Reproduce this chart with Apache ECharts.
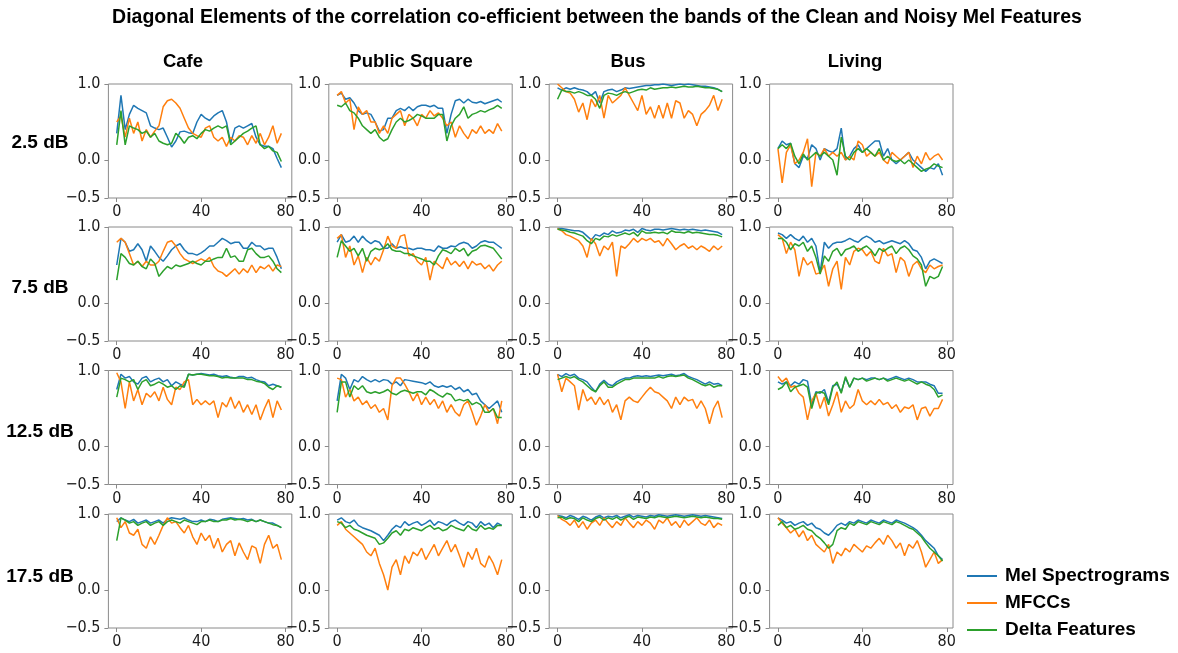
<!DOCTYPE html>
<html>
<head>
<meta charset="utf-8">
<script src="https://cdn.jsdelivr.net/npm/echarts@6/dist/echarts.min.js"></script>
<style>
  html, body { margin: 0; padding: 0; background: #fff; }
  #chart { width: 1178px; height: 653px; }
</style>
</head>
<body>
<div id="chart"></div>
<script>
// Noise conditions (columns) and SNR levels (rows)
const scenes = ['Cafe', 'Public Square', 'Bus', 'Living'];
const snrLevels = ['2.5 dB', '7.5 dB', '12.5 dB', '17.5 dB'];
const featureNames = ['Mel Spectrograms', 'MFCCs', 'Delta Features'];
const featureColors = ['#1f77b4', '#ff7f0e', '#2ca02c'];

// Mel band index of each sample
const bandIndex = [0,2,4,6,8,10,12,14,16,18,20,22,24,26,28,30,32,34,36,38,
                   40,42,44,46,48,50,52,54,56,58,60,62,64,66,68,70,72,74,76,78];
const xTicks = [0, 40, 80];
const yTicks = [-0.5, 0, 1];

// ---- 2.5 dB ----
const cafe25Mel   = [.35,.85,.4,.6,.72,.68,.65,.62,.45,.42, .4,.42,.3,.17,.25,.37,.38,.36,.35,.5, .6,.55,.52,.58,.62,.65,.5,.22,.42,.45, .42,.45,.48,.3,.2,.18,.18,.15,.02,-.1];
const cafe25Mfcc  = [.5,.58,.3,.55,.35,.5,.25,.4,.3,.38, .45,.7,.78,.8,.75,.68,.55,.42,.35,.32, .3,.42,.45,.3,.25,.3,.18,.3,.25,.32, .3,.2,.32,.22,.35,.2,.3,.45,.22,.35];
const cafe25Delta = [.2,.65,.2,.45,.42,.4,.35,.38,.3,.35, .25,.22,.2,.22,.35,.3,.22,.3,.32,.28, .35,.4,.38,.42,.45,.42,.45,.2,.25,.3, .35,.38,.42,.45,.2,.15,.18,.12,.1,-.02];

const square25Mel   = [.85,.88,.8,.82,.75,.65,.6,.62,.6,.5, .38,.4,.55,.55,.65,.68,.65,.7,.65,.7, .72,.72,.7,.72,.68,.68,.35,.6,.78,.8, .75,.8,.76,.75,.77,.74,.76,.78,.8,.76];
const square25Mfcc  = [.85,.9,.75,.8,.4,.7,.6,.65,.5,.5, .35,.45,.35,.55,.6,.65,.45,.6,.55,.45, .6,.55,.65,.58,.62,.55,.45,.5,.3,.45, .35,.28,.4,.35,.45,.35,.4,.35,.48,.38];
const square25Delta = [.72,.7,.75,.65,.62,.55,.45,.4,.35,.4, .3,.25,.28,.4,.5,.55,.5,.52,.55,.6, .58,.55,.55,.55,.6,.6,.25,.45,.55,.6, .7,.55,.6,.62,.65,.63,.66,.68,.72,.68];

const bus25Mel   = [.95,.92,.95,.93,.95,.93,.92,.9,.85,.9, .75,.9,.92,.93,.9,.92,.95,.94,.95,.96, .97,.98,.98,.99,.99,1,.99,.98,.99,1, .99,1,.99,.98,.97,.97,.96,.95,.93,.9];
const bus25Mfcc  = [1,.95,.9,.88,.8,.63,.75,.53,.8,.7, .85,.55,.85,.75,.8,.85,.95,.85,.75,.65, .85,.6,.7,.55,.72,.55,.75,.55,.78,.75, .55,.65,.6,.45,.6,.65,.72,.85,.65,.8];
const bus25Delta = [.8,.92,.9,.9,.88,.9,.88,.85,.85,.8, .68,.85,.88,.87,.85,.88,.9,.88,.9,.92, .93,.92,.95,.93,.94,.95,.95,.96,.95,.96, .97,.96,.96,.97,.96,.95,.95,.94,.93,.9];

const living25Mel   = [.15,.25,.2,.22,-.05,-.1,.05,.02,.2,.15, 0,.15,.12,.1,.15,.42,0,.05,.15,.2, .1,.15,.2,.25,.25,.05,.15,0,-.05,0, .05,.1,0,-.05,-.1,-.15,-.1,-.12,-.05,-.2];
const living25Mfcc  = [.15,-.3,.1,.2,-.05,0,.1,.28,-.35,.1, .05,.15,.05,.1,.05,.1,0,.05,0,.25, .2,.05,.1,.05,.1,0,-.05,.1,.05,0, .05,.1,-.1,.05,-.05,.1,0,.05,.08,0];
const living25Delta = [.15,.2,.15,.22,.05,-.05,.08,0,.05,.1, .05,.1,.05,0,-.2,.3,.05,0,.1,.15, .1,.15,.1,.05,.15,0,.05,0,-.02,0, -.05,0,-.05,-.1,-.15,-.12,-.1,-.05,-.08,-.1];

// ---- 7.5 dB ----
const cafe75Mel   = [.5,.85,.8,.68,.7,.78,.7,.55,.75,.68, .6,.55,.62,.7,.75,.78,.7,.65,.65,.63, .66,.7,.75,.75,.8,.85,.82,.78,.8,.8, .72,.72,.8,.75,.75,.7,.72,.72,.6,.45];
const cafe75Mfcc  = [.8,.85,.8,.65,.5,.55,.48,.55,.5,.5, .55,.68,.8,.82,.75,.65,.58,.55,.52,.55, .58,.55,.6,.48,.42,.4,.35,.4,.45,.38, .45,.4,.5,.4,.48,.45,.5,.42,.5,.48];
const cafe75Delta = [.3,.65,.6,.52,.5,.55,.48,.45,.58,.52, .35,.42,.48,.45,.5,.48,.5,.52,.55,.52, .5,.55,.55,.58,.6,.6,.72,.6,.62,.55, .55,.7,.72,.65,.6,.6,.62,.55,.45,.4];

const square75Mel   = [.8,.9,.8,.82,.88,.8,.88,.82,.78,.82, .8,.72,.72,.78,.72,.74,.72,.72,.7,.72, .72,.7,.7,.68,.75,.72,.72,.75,.74,.78, .8,.78,.72,.75,.8,.82,.8,.8,.76,.72];
const square75Mfcc  = [.85,.9,.6,.75,.5,.62,.4,.6,.5,.6, .55,.7,.88,.75,.72,.88,.9,.62,.65,.55, .5,.6,.3,.55,.5,.45,.6,.5,.55,.48, .55,.45,.55,.5,.52,.45,.5,.42,.5,.55];
const square75Delta = [.6,.82,.75,.68,.72,.62,.72,.55,.68,.72, .7,.72,.78,.7,.68,.68,.65,.65,.62,.6, .58,.55,.55,.5,.62,.7,.68,.65,.72,.68, .72,.62,.68,.7,.75,.76,.74,.72,.65,.58];

const bus75Mel   = [.98,.98,.97,.96,.95,.95,.93,.88,.83,.9, .88,.92,.9,.95,.92,.93,.96,.95,.97,.93, .98,.96,.95,.97,.97,.96,.97,.98,.97,.96, .97,.96,.97,.96,.95,.96,.95,.94,.93,.9];
const bus75Mfcc  = [.98,.95,.9,.88,.85,.82,.75,.6,.85,.78, .62,.75,.7,.8,.35,.75,.72,.78,.85,.8, .85,.82,.85,.8,.82,.75,.85,.78,.7,.75, .78,.72,.75,.7,.75,.72,.68,.75,.7,.75];
const bus75Delta = [.97,.96,.95,.93,.92,.9,.88,.82,.78,.85, .83,.88,.87,.9,.88,.9,.92,.9,.93,.88, .95,.92,.92,.93,.92,.93,.91,.95,.93,.93, .92,.94,.92,.93,.92,.91,.9,.9,.89,.87];

const living75Mel   = [.92,.9,.85,.9,.85,.82,.88,.8,.85,.75, .4,.8,.72,.78,.8,.8,.82,.85,.82,.8, .85,.88,.85,.8,.82,.78,.8,.82,.8,.78, .82,.78,.7,.68,.6,.45,.55,.58,.55,.52];
const living75Mfcc  = [.9,.85,.65,.8,.7,.35,.6,.5,.55,.38, .4,.5,.22,.45,.55,.18,.6,.5,.68,.72, .7,.62,.68,.55,.52,.72,.62,.65,.4,.6, .55,.35,.5,.55,.45,.4,.5,.45,.48,.5];
const living75Delta = [.85,.85,.8,.7,.78,.75,.8,.68,.75,.6, .38,.62,.55,.68,.72,.62,.7,.72,.75,.68, .72,.75,.7,.62,.72,.68,.72,.75,.65,.72, .75,.7,.62,.58,.5,.22,.35,.32,.35,.48];

// ---- 12.5 dB ----
const cafe125Mel   = [.75,.95,.9,.92,.85,.82,.9,.92,.85,.88, .9,.85,.88,.8,.85,.82,.8,.95,.94,.95, .96,.95,.94,.95,.93,.92,.93,.91,.9,.92, .92,.9,.91,.88,.86,.85,.8,.82,.8,.78];
const cafe125Mfcc  = [.97,.85,.5,.85,.6,.75,.55,.7,.65,.72, .6,.78,.62,.55,.78,.75,.85,.88,.55,.62, .55,.6,.55,.6,.38,.58,.52,.65,.5,.6, .45,.55,.42,.55,.35,.5,.62,.38,.6,.48];
const cafe125Delta = [.65,.9,.88,.85,.88,.75,.85,.88,.8,.82, .85,.82,.78,.8,.75,.8,.78,.95,.94,.95, .95,.94,.93,.93,.92,.9,.91,.9,.9,.9, .9,.88,.88,.86,.85,.83,.78,.75,.8,.78];

const square125Mel   = [.6,.95,.9,.75,.88,.85,.92,.88,.85,.88, .85,.88,.87,.82,.85,.8,.88,.87,.86,.85, .84,.82,.85,.8,.78,.8,.78,.8,.75,.78, .72,.75,.68,.7,.6,.55,.5,.55,.6,.45];
const square125Mfcc  = [.9,.88,.65,.75,.6,.65,.55,.6,.5,.55, .45,.5,.35,.8,.9,.9,.82,.72,.6,.7, .55,.65,.55,.62,.5,.6,.45,.55,.45,.4, .55,.6,.45,.28,.4,.55,.45,.5,.3,.6];
const square125Delta = [.45,.85,.85,.65,.8,.75,.8,.72,.7,.72, .7,.72,.75,.7,.68,.72,.74,.72,.7,.72, .72,.68,.75,.72,.68,.65,.7,.68,.6,.62, .6,.62,.55,.58,.55,.45,.45,.5,.38,.38];

const bus125Mel   = [.95,.92,.96,.93,.95,.9,.88,.85,.78,.72, .82,.87,.82,.8,.85,.88,.9,.9,.92,.93, .92,.93,.92,.93,.94,.93,.94,.95,.93,.94, .96,.92,.9,.88,.85,.82,.85,.82,.83,.8];
const bus125Mfcc  = [.95,.72,.9,.85,.8,.48,.75,.6,.65,.55, .65,.55,.62,.45,.55,.35,.6,.65,.6,.58, .65,.72,.78,.72,.7,.65,.6,.5,.65,.55, .65,.6,.62,.5,.6,.5,.3,.5,.6,.38];
const bus125Delta = [.88,.9,.92,.9,.92,.88,.85,.8,.75,.72, .8,.85,.78,.78,.82,.85,.88,.88,.9,.9, .9,.9,.9,.9,.92,.9,.92,.93,.92,.93, .94,.9,.88,.85,.82,.8,.82,.78,.8,.8];

const living125Mel   = [.85,.82,.85,.8,.85,.82,.88,.86,.55,.72, .7,.75,.58,.8,.82,.72,.9,.78,.9,.88, .9,.88,.9,.9,.88,.9,.88,.9,.92,.9, .88,.9,.88,.85,.85,.85,.82,.8,.7,.7];
const living125Mfcc  = [.92,.85,.9,.78,.8,.7,.65,.35,.6,.7, .5,.65,.4,.55,.72,.45,.6,.5,.55,.75, .6,.55,.6,.55,.62,.55,.58,.5,.55,.45, .52,.5,.55,.35,.5,.52,.4,.5,.5,.62];
const living125Delta = [.75,.78,.85,.72,.78,.8,.82,.78,.5,.7, .72,.7,.55,.78,.85,.7,.92,.78,.9,.88, .9,.86,.88,.9,.88,.9,.86,.88,.9,.88, .86,.88,.85,.82,.85,.82,.8,.75,.65,.68];

// ---- 17.5 dB ----
const cafe175Mel   = [.9,.95,.92,.9,.93,.88,.9,.92,.88,.9, .92,.88,.93,.95,.94,.93,.95,.92,.9,.9, .92,.9,.93,.92,.9,.93,.94,.95,.94,.93, .94,.92,.93,.9,.92,.9,.88,.88,.85,.82];
const cafe175Mfcc  = [.95,.82,.9,.75,.72,.8,.6,.55,.7,.6, .72,.85,.95,.88,.9,.82,.75,.85,.7,.6, .75,.65,.72,.55,.68,.5,.6,.65,.45,.62, .5,.4,.58,.55,.35,.6,.72,.55,.6,.4];
const cafe175Delta = [.65,.95,.92,.88,.9,.85,.88,.9,.85,.88, .9,.85,.9,.92,.9,.88,.92,.9,.88,.86, .9,.9,.92,.9,.9,.92,.92,.94,.92,.93, .92,.9,.92,.9,.92,.9,.88,.86,.85,.82];

const square175Mel   = [.92,.95,.9,.88,.92,.85,.82,.8,.78,.75, .72,.65,.72,.8,.85,.82,.9,.85,.88,.9, .85,.88,.92,.85,.9,.88,.85,.9,.92,.88, .85,.9,.88,.82,.9,.85,.88,.82,.88,.85];
const square175Mfcc  = [.85,.9,.8,.75,.7,.65,.6,.5,.45,.55, .35,.2,0,.3,.4,.2,.45,.35,.5,.45, .55,.4,.5,.6,.45,.55,.65,.5,.6,.45, .3,.5,.4,.55,.35,.3,.45,.35,.2,.4];
const square175Delta = [.9,.88,.82,.85,.8,.78,.75,.72,.7,.68, .6,.62,.68,.75,.78,.72,.8,.78,.82,.8, .78,.82,.85,.8,.82,.78,.8,.85,.82,.8, .78,.85,.8,.78,.85,.8,.82,.8,.85,.85];

const bus175Mel   = [.98,.97,.95,.98,.96,.93,.97,.95,.92,.96, .98,.95,.97,.96,.98,.95,.97,.99,.96,.98, .97,.96,.98,.97,.99,.98,.97,.98,.99,.98, .97,.98,.99,.98,.97,.98,.97,.96,.95,.94];
const bus175Mfcc  = [.98,.93,.9,.85,.92,.82,.9,.8,.88,.92, .85,.95,.88,.82,.9,.85,.95,.88,.82,.9, .85,.92,.88,.8,.92,.88,.95,.85,.9,.82, .92,.85,.9,.95,.88,.85,.92,.82,.88,.85];
const bus175Delta = [.95,.96,.93,.95,.94,.9,.95,.92,.9,.94, .96,.92,.95,.93,.96,.92,.95,.97,.93,.96, .95,.94,.96,.95,.97,.96,.95,.96,.97,.96, .95,.96,.97,.96,.95,.96,.95,.94,.94,.93];

const living175Mel   = [.95,.92,.88,.9,.85,.88,.9,.85,.88,.82, .8,.75,.72,.78,.85,.88,.85,.9,.88,.92, .9,.88,.92,.9,.88,.92,.9,.88,.92,.9, .88,.85,.82,.78,.72,.65,.6,.55,.45,.4];
const living175Mfcc  = [.95,.88,.82,.75,.8,.7,.78,.65,.72,.6, .55,.5,.6,.35,.5,.45,.55,.5,.6,.55, .5,.58,.55,.62,.68,.6,.72,.65,.55,.62, .45,.6,.55,.65,.5,.3,.4,.5,.35,.4];
const living175Delta = [.85,.9,.82,.85,.8,.82,.85,.8,.78,.72, .68,.62,.55,.6,.78,.82,.8,.88,.85,.9, .88,.86,.9,.88,.86,.9,.88,.86,.9,.88, .85,.82,.8,.75,.7,.62,.55,.5,.45,.38];

// rows = SNR level, columns = scene, each cell = [mel, mfcc, delta]
const panels = [
  [[cafe25Mel, cafe25Mfcc, cafe25Delta], [square25Mel, square25Mfcc, square25Delta], [bus25Mel, bus25Mfcc, bus25Delta], [living25Mel, living25Mfcc, living25Delta]],
  [[cafe75Mel, cafe75Mfcc, cafe75Delta], [square75Mel, square75Mfcc, square75Delta], [bus75Mel, bus75Mfcc, bus75Delta], [living75Mel, living75Mfcc, living75Delta]],
  [[cafe125Mel, cafe125Mfcc, cafe125Delta], [square125Mel, square125Mfcc, square125Delta], [bus125Mel, bus125Mfcc, bus125Delta], [living125Mel, living125Mfcc, living125Delta]],
  [[cafe175Mel, cafe175Mfcc, cafe175Delta], [square175Mel, square175Mfcc, square175Delta], [bus175Mel, bus175Mfcc, bus175Delta], [living175Mel, living175Mfcc, living175Delta]]
];

// subplot layout (px)
const colLeft = [108.4, 328.8, 549.2, 769.6];
const rowTop = [84, 227, 370.5, 514];
const cellW = 183.4;
const cellH = 114;

const headFont = '"Liberation Sans", Arial, sans-serif';
const tickFont = '"DejaVu Sans Condensed", "DejaVu Sans", sans-serif';
const spineColor = '#8a8a8a';

const grids = [], xAxes = [], yAxes = [], series = [];
const fmtY = v => (v < 0 ? '\u2212' : '') + Math.abs(v).toFixed(1);

panels.forEach((row, r) => {
  row.forEach((cell, c) => {
    const idx = grids.length;
    grids.push({
      left: colLeft[c], top: rowTop[r], width: cellW, height: cellH,
      show: true, borderColor: spineColor, borderWidth: 1, backgroundColor: '#fff'
    });
    xAxes.push({
      type: 'value', gridIndex: idx, min: -3.95, max: 82.95, position: 'bottom',
      axisLine: { show: false, onZero: false },
      splitLine: { show: false },
      axisTick: { show: true, length: 4, customValues: xTicks, lineStyle: { color: spineColor } },
      axisLabel: { customValues: xTicks, margin: 6, fontSize: 16, fontFamily: tickFont, color: '#1a1a1a',
                   showMinLabel: true, showMaxLabel: true }
    });
    yAxes.push({
      type: 'value', gridIndex: idx, min: -0.5, max: 1, position: 'left',
      axisLine: { show: false, onZero: false },
      splitLine: { show: false },
      axisTick: { show: true, length: 4, customValues: yTicks, lineStyle: { color: spineColor } },
      axisLabel: { customValues: yTicks, margin: 8, fontSize: 16, fontFamily: tickFont, color: '#1a1a1a',
                   formatter: fmtY, showMinLabel: true, showMaxLabel: true }
    });
    cell.forEach((vals, k) => {
      series.push({
        type: 'line', name: featureNames[k], xAxisIndex: idx, yAxisIndex: idx,
        data: bandIndex.map((b, i) => [b, vals[i]]),
        symbol: 'none', showSymbol: false, animation: false,
        lineStyle: { width: 1.5, color: featureColors[k] },
        itemStyle: { color: featureColors[k] },
        emphasis: { disabled: true }
      });
    });
  });
});

const textEl = (text, x, y, size, align) => ({
  type: 'text', x: x, y: y, silent: true,
  style: {
    text: text, font: 'bold ' + size + 'px ' + headFont, fill: '#000',
    align: align || 'center', textAlign: align || 'center',
    verticalAlign: 'middle', textVerticalAlign: 'middle'
  }
});

const colTitleX = [183, 411, 628, 855];
const rowLabelY = [143, 288, 432, 577];
const graphics = [
  textEl('Diagonal Elements of the correlation co-efficient between the bands of the Clean and Noisy Mel Features', 597, 18, 19.5)
];
scenes.forEach((s, c) => graphics.push(textEl(s, colTitleX[c], 62, 18.5)));
snrLevels.forEach((s, r) => graphics.push(textEl(s, 40, rowLabelY[r], 19)));

const chart = echarts.init(document.getElementById('chart'), null, { renderer: 'canvas' });
chart.setOption({
  animation: false,
  backgroundColor: '#fff',
  grid: grids,
  xAxis: xAxes,
  yAxis: yAxes,
  series: series,
  legend: {
    data: featureNames,
    orient: 'vertical',
    left: 962, top: 561,
    icon: 'rect', itemWidth: 30, itemHeight: 2, itemGap: 7,
    selectedMode: false,
    textStyle: { fontFamily: headFont, fontWeight: 'bold', fontSize: 19, color: '#000', lineHeight: 20, padding: [0, 0, 0, 3] }
  },
  graphic: graphics
});
</script>
</body>
</html>
